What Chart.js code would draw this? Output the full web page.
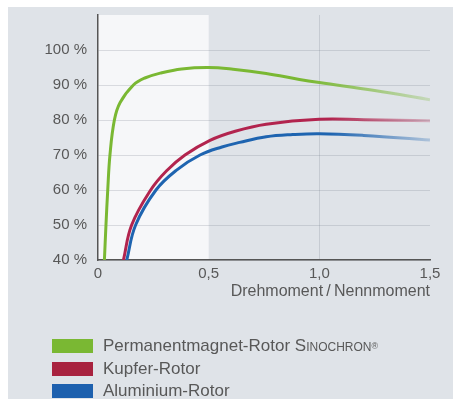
<!DOCTYPE html>
<html><head><meta charset="utf-8">
<script src="https://cdn.jsdelivr.net/npm/chart.js@4.4.1/dist/chart.umd.min.js"></script>
<style>
html,body{margin:0;padding:0;background:#fff;width:456px;height:401px;overflow:hidden;font-family:"Liberation Sans",Arial,sans-serif;}
#panel{position:absolute;left:8px;top:7px;width:445px;height:392px;background:#dfe3e8;}
#wrap{position:absolute;left:0;top:0;width:456px;height:401px;}
#legend{position:absolute;left:52px;top:335px;color:#585858;font-size:17px;}
.item{display:flex;align-items:center;height:22.5px;white-space:pre;}
.box{width:41px;height:14px;margin-right:10px;}
.sc{font-variant:small-caps;}
sup{font-size:9px;}
</style></head>
<body>
<div id="panel"></div>
<div id="wrap"><canvas id="c" width="456" height="401"></canvas></div>
<div id="legend">
  <div class="item"><div class="box" style="background:#7ab833"></div>Permanentmagnet-Rotor <span class="sc">Sinochron</span><sup>®</sup></div>
  <div class="item"><div class="box" style="background:#a8223f"></div>Kupfer-Rotor</div>
  <div class="item"><div class="box" style="background:#1d60ae"></div>Aluminium-Rotor</div>
</div>
<script>
const xTickLabels = {0:"0",0.5:"0,5",1:"1,0",1.5:"1,5"};
const yTickValues = [40,50,60,70,80,90,100];
const seriesNames = ["Permanentmagnet-Rotor Sinochron","Kupfer-Rotor","Aluminium-Rotor"];
const greenX = [0.029,0.036,0.044,0.054,0.074,0.1,0.16,0.212,0.288,0.378,0.5,0.61,0.76,0.91,1.0,1.25,1.5];
const greenY = [40,50,60,70,80,85,90,92,93.5,94.6,95,94.5,93.3,91.6,90.7,88.4,85.8];
const redX = [0.115,0.152,0.238,0.31,0.393,0.506,0.62,0.76,1.0,1.2,1.5];
const redY = [40,50,60,65.5,70,74.2,76.8,78.8,80.2,80.1,79.8];
const blueX = [0.13,0.17,0.262,0.355,0.461,0.56,0.64,0.76,0.88,1.0,1.2,1.5];
const blueY = [40,50,60,65.7,70,72.3,73.6,75.2,75.85,76.1,75.6,74.3];

const pts=(xs,ys)=>xs.map((x,i)=>({x:x,y:ys[i]}));
function fade(rgb, startX){
  return (ctx)=>{
    const ch=ctx.chart; const ca=ch.chartArea; if(!ca) return 'rgb('+rgb+')';
    const xs=ch.scales.x;
    const g=ch.ctx.createLinearGradient(ca.left,0,ca.right,0);
    const p=(xs.getPixelForValue(startX)-ca.left)/(ca.right-ca.left);
    g.addColorStop(0,'rgba('+rgb+',1)');
    g.addColorStop(p,'rgba('+rgb+',1)');
    g.addColorStop(1,'rgba('+rgb+',0.25)');
    return g;
  };
}
const bgPlugin={id:'bg',beforeDraw(chart){
  const {ctx,chartArea:ca,scales:{x}}=chart;
  ctx.save();ctx.fillStyle='#f6f7f9';
  const r=x.getPixelForValue(0.5);
  ctx.fillRect(ca.left,ca.top,r-ca.left,ca.bottom-ca.top);
  ctx.restore();
}};
const font={family:'"Liberation Sans", Arial, sans-serif',size:15};
const lineOpts={borderWidth:3,pointRadius:0,tension:0.4,cubicInterpolationMode:'default'};
new Chart(document.getElementById('c'),{
  type:'line',
  data:{datasets:[
    Object.assign({label:seriesNames[0],data:pts(greenX,greenY),borderColor:fade('122,184,51',0.95)},lineOpts),
    Object.assign({label:seriesNames[1],data:pts(redX,redY),borderColor:fade('178,36,78',1.05)},lineOpts),
    Object.assign({label:seriesNames[2],data:pts(blueX,blueY),borderColor:fade('30,100,176',1.05)},lineOpts)
  ]},
  plugins:[bgPlugin],
  options:{
    responsive:false,animation:false,
    layout:{padding:{left:0,top:15,right:26,bottom:96}},
    plugins:{legend:{display:false},tooltip:{enabled:false}},
    scales:{
      x:{type:'linear',min:0,max:1.5,
        afterFit:s=>{s.height=45;s.paddingLeft=0;s.paddingRight=0;},
        border:{color:'#555',width:1.5},
        grid:{drawTicks:false,color:c=>(c.tick&&c.tick.value===1)?'rgba(110,120,130,0.22)':'transparent'},
        ticks:{stepSize:0.5,padding:5,color:'#585858',font:font,callback:v=>xTickLabels[v]},
        title:{display:true,text:'Drehmoment\u2009/\u2009Nennmoment',align:'end',color:'#585858',font:{family:font.family,size:16},padding:{top:0,bottom:4}}
      },
      y:{min:40,max:110,
        afterFit:s=>{s.width=98;s.paddingTop=0;s.paddingBottom=0;},
        border:{color:'#555',width:1.5},
        grid:{drawTicks:false,color:'rgba(110,120,130,0.22)'},
        ticks:{stepSize:10,padding:11,color:'#585858',font:font,callback:v=>yTickValues.includes(v)?v+' %':null}
      }
    }
  }
});
</script>
</body></html>
